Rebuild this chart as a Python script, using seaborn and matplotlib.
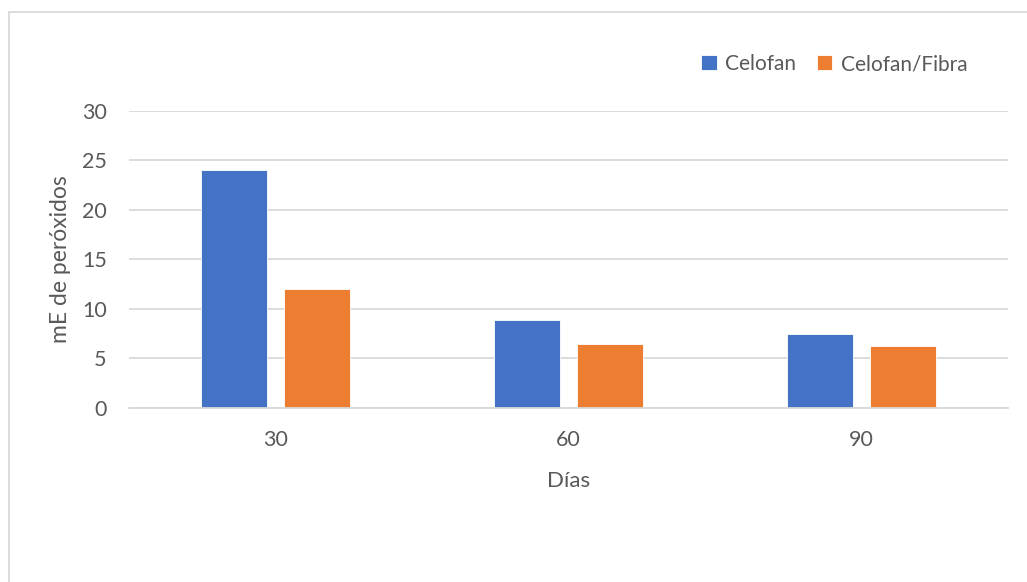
import matplotlib
matplotlib.use("Agg")
import matplotlib.pyplot as plt
from matplotlib.patches import Rectangle
import seaborn as sns
import pandas as pd

# Peroxide values (mE) by storage day and packaging type
dias = ["30", "60", "90"]
celofan = [24.0, 8.9, 7.5]
celofan_fibra = [12.0, 6.5, 6.3]
series_names = ["Celofan", "Celofan/Fibra"]
colors = ["#4472C4", "#ED7D31"]

df = pd.DataFrame({
    "Días": dias * 2,
    "valor": celofan + celofan_fibra,
    "serie": [series_names[0]] * len(dias) + [series_names[1]] * len(dias),
})

sns.set_theme(style="white")
plt.rcParams["font.family"] = ["Lato", "DejaVu Sans"]
text_color = "#595959"
grid_color = "#D9D9D9"

fig = plt.figure(figsize=(10.27, 5.82), dpi=100)
ax = fig.add_axes([0.1256, 0.299, 0.8559, 0.5103])

sns.barplot(data=df, x="Días", y="valor", hue="serie", order=dias,
            hue_order=series_names, palette=colors, width=0.57, gap=0.21,
            saturation=1, edgecolor="white", linewidth=0.6, ax=ax, legend=True)

ax.set_ylim(0, 30)
ax.set_xlim(-0.5, 2.5)
ax.set_yticks([0, 5, 10, 15, 20, 25, 30])
ax.yaxis.grid(True, color=grid_color, linewidth=1.3)
ax.set_axisbelow(True)
for side in ["top", "right", "left"]:
    ax.spines[side].set_visible(False)
ax.spines["bottom"].set_color(grid_color)
ax.spines["bottom"].set_linewidth(1.3)
ax.tick_params(axis="both", length=0, labelsize=15.5, labelcolor=text_color)
ax.tick_params(axis="y", pad=16)
ax.tick_params(axis="x", pad=16)

ax.set_xlabel("Días", fontsize=16, color=text_color, labelpad=15)
ax.set_ylabel("mE de peróxidos", fontsize=16.5, color=text_color, labelpad=8)

leg = ax.legend(loc="upper right", bbox_to_anchor=(0.975, 1.255), ncol=2,
                frameon=False, fontsize=15, handlelength=0.75,
                handleheight=0.75, handletextpad=0.4, columnspacing=1.0)
for t in leg.get_texts():
    t.set_color(text_color)

# Chart frame
fig.patches.append(Rectangle((8.5 / 1027, -0.1), 1.2, 1 - 11.5 / 582 + 0.1,
                             transform=fig.transFigure, fill=False,
                             edgecolor=grid_color, linewidth=1.3))

fig.savefig("out.png", dpi=100)
